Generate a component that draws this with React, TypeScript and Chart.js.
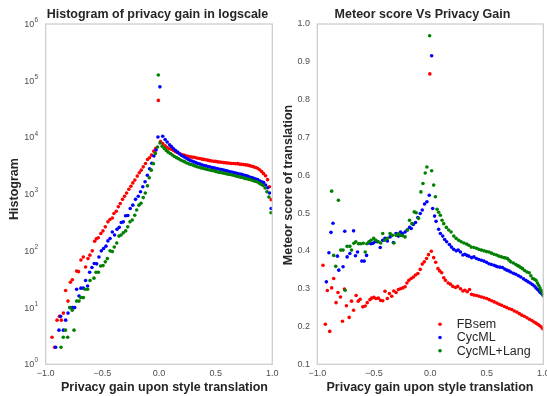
import React, { useEffect, useRef } from 'react';
import { Chart, registerables } from 'chart.js';

Chart.register(...registerables);

const FONT = '"Liberation Sans", Arial, Helvetica, sans-serif';
const TEXT_DARK = '#262626';
const TICK_COLOR = '#4d4d4d';
const FRAME_COLOR = '#cccccc';
const TICK_SIZE = 9;
const DOT_R = 1.8;

const seriesNames = ['FBsem', 'CycML', 'CycML+Lang'];
const seriesColors = ['#ff0000', '#0000ff', '#008000'];

const xTickValues = [-1.0, -0.5, 0.0, 0.5, 1.0];
const logTickPowers = [0, 1, 2, 3, 4, 5, 6];
const meteorTicks = [0.1, 0.2, 0.3, 0.4, 0.5, 0.6, 0.7, 0.8, 0.9, 1.0];

// ---------- Left: histogram (log scale) ----------
const histFBsemX = [-0.944,-0.921,-0.900,-0.879,-0.862,-0.844,-0.824,-0.803,-0.782,-0.765,
  -0.727,-0.710,-0.689,-0.668,-0.648,-0.627,-0.610,-0.589,-0.568,-0.553,
  -0.536,-0.513,-0.495,-0.474,-0.451,-0.433,-0.412,-0.398,-0.377,-0.359,
  -0.342,-0.322,-0.304,-0.286,-0.266,-0.248,-0.231,-0.213,-0.192,-0.174,
  -0.157,-0.139,-0.119,-0.101,-0.084,-0.066,-0.046,-0.028,-0.006,0.013,
  0.033,0.054,0.072,0.090,0.110,0.128,0.146,0.164,0.182,0.200,
  0.219,0.237,0.255,0.273,0.290,0.307,0.325,0.343,0.360,0.378,
  0.395,0.413,0.430,0.448,0.466,0.483,0.500,0.518,0.536,0.553,
  0.571,0.589,0.606,0.624,0.641,0.659,0.676,0.694,0.712,0.729,
  0.747,0.765,0.782,0.800,0.818,0.835,0.853,0.870,0.888,0.906,
  0.923,0.941,0.958,0.975,0.990];
const histFBsemY = [3,2,6,7,6,8,20,13,28,31,
  44,43,69,78,52,73,84,100,148,163,
  170,203,225,265,325,357,380,455,500,600,
  685,810,920,1050,1220,1380,1580,1770,2080,2390,
  2650,3030,3470,4080,4370,4880,5730,6430,45000,8500,
  7800,7100,6650,6300,6200,5900,5600,5400,5200,5000,
  4900,4750,4650,4550,4500,4460,4380,4300,4250,4150,
  4100,4050,3980,3900,3850,3810,3780,3700,3680,3650,
  3600,3560,3550,3500,3480,3470,3440,3450,3380,3350,
  3330,3280,3250,3180,3100,3030,2950,2850,2700,2500,
  2300,2100,1800,1350,800];

const histCycMLX = [-0.912,-0.883,-0.868,-0.844,-0.824,-0.803,-0.786,-0.765,-0.744,-0.727,
  -0.706,-0.689,-0.668,-0.648,-0.630,-0.612,-0.592,-0.571,-0.550,-0.530,
  -0.509,-0.489,-0.468,-0.451,-0.432,-0.412,-0.392,-0.371,-0.351,-0.333,
  -0.315,-0.295,-0.275,-0.254,-0.231,-0.207,-0.183,-0.163,-0.143,-0.123,
  -0.103,-0.083,-0.064,-0.045,-0.026,-0.009,0.008,0.033,0.054,0.072,
  0.093,0.110,0.128,0.146,0.164,0.182,0.200,0.219,0.237,0.255,
  0.273,0.290,0.307,0.325,0.343,0.360,0.378,0.395,0.413,0.430,
  0.448,0.466,0.483,0.500,0.518,0.536,0.553,0.571,0.589,0.606,
  0.624,0.641,0.659,0.676,0.694,0.712,0.729,0.747,0.765,0.782,
  0.800,0.818,0.835,0.853,0.870,0.888,0.906,0.923,0.941,0.958,
  0.975,0.990];
const histCycMLY = [2,4,7,4,6,8,10,10,10,21,
  16,22,22,30,24,42,51,60,59,78,
  100,110,121,150,165,215,190,240,260,316,
  325,415,420,560,640,810,920,1100,1350,1650,
  2150,2800,3500,4700,6000,10200,78000,10500,9200,8300,
  7400,6900,6300,5900,5500,5100,4800,4560,4350,4150,
  3950,3850,3700,3600,3480,3400,3300,3200,3150,3080,
  3030,2950,2900,2850,2800,2750,2720,2650,2600,2550,
  2480,2460,2400,2350,2300,2260,2230,2180,2130,2080,
  2000,1960,1900,1850,1800,1720,1650,1600,1450,1300,
  1050,560];

const histCycMLLangX = [-0.865,-0.845,-0.826,-0.806,-0.786,-0.766,-0.750,-0.727,-0.706,-0.690,
  -0.668,-0.653,-0.630,-0.609,-0.574,-0.556,-0.535,-0.515,-0.494,-0.474,
  -0.456,-0.432,-0.412,-0.395,-0.373,-0.353,-0.335,-0.315,-0.294,-0.276,
  -0.256,-0.236,-0.214,-0.197,-0.177,-0.159,-0.139,-0.121,-0.102,-0.086,
  -0.068,-0.050,-0.032,-0.013,-0.006,0.009,0.028,0.046,0.064,0.082,
  0.100,0.118,0.136,0.155,0.173,0.191,0.210,0.228,0.246,0.264,
  0.282,0.300,0.318,0.336,0.355,0.373,0.391,0.410,0.428,0.446,
  0.464,0.482,0.500,0.518,0.536,0.555,0.573,0.591,0.610,0.628,
  0.646,0.664,0.682,0.700,0.718,0.736,0.755,0.773,0.791,0.810,
  0.828,0.846,0.864,0.882,0.900,0.918,0.936,0.953,0.970,0.989];
const histCycMLLangY = [2,3,4,3,10,9,4,13,13,15,
  15,21,21,30,33,42,42,54,55,64,
  73,100,97,117,138,182,190,208,225,265,
  325,350,425,525,640,690,870,1050,1400,1950,
  2650,3450,5200,6800,126000,8000,7000,6400,5900,5500,
  5200,4900,4600,4400,4200,4000,3850,3700,3550,3420,
  3330,3250,3150,3050,2980,2900,2850,2780,2720,2660,
  2620,2580,2520,2460,2420,2380,2330,2290,2250,2220,
  2180,2130,2080,2040,2000,1960,1900,1870,1830,1790,
  1740,1690,1650,1580,1500,1420,1280,1100,890,470];

// ---------- Right: meteor score ----------
const meteorFBsemX = [-0.950,-0.929,-0.911,-0.890,-0.873,-0.855,-0.834,-0.817,-0.795,-0.777,
  -0.760,-0.742,-0.718,-0.697,-0.679,-0.656,-0.638,-0.621,-0.597,-0.576,
  -0.558,-0.534,-0.519,-0.499,-0.481,-0.460,-0.439,-0.421,-0.401,-0.380,
  -0.362,-0.341,-0.323,-0.303,-0.282,-0.264,-0.243,-0.223,-0.207,-0.190,
  -0.169,-0.149,-0.131,-0.110,-0.089,-0.071,-0.053,-0.033,-0.016,-0.004,
  0.009,0.030,0.048,0.068,0.083,0.101,0.119,0.134,0.158,0.178,
  0.199,0.223,0.243,0.267,0.288,0.306,0.327,0.347,0.365,0.386,
  0.410,0.432,0.454,0.476,0.499,0.521,0.543,0.565,0.588,0.610,
  0.632,0.655,0.677,0.699,0.721,0.743,0.766,0.788,0.810,0.832,
  0.855,0.877,0.899,0.918,0.935,0.950,0.964,0.980,0.995];
const meteorFBsemY = [0.362,0.206,0.295,0.187,0.302,0.327,0.263,0.290,0.278,0.214,
  0.299,0.255,0.224,0.267,0.243,0.282,0.267,0.272,0.252,0.254,
  0.263,0.271,0.275,0.277,0.274,0.275,0.269,0.268,0.293,0.274,
  0.287,0.280,0.294,0.290,0.298,0.300,0.302,0.305,0.315,0.322,
  0.327,0.331,0.336,0.340,0.351,0.365,0.371,0.380,0.390,0.868,
  0.399,0.382,0.370,0.353,0.347,0.342,0.329,0.322,0.315,0.312,
  0.306,0.303,0.306,0.300,0.294,0.296,0.292,0.298,0.285,0.283,
  0.282,0.280,0.278,0.276,0.274,0.271,0.268,0.265,0.262,0.259,
  0.256,0.253,0.250,0.247,0.245,0.241,0.238,0.234,0.230,0.227,
  0.223,0.219,0.216,0.212,0.209,0.206,0.203,0.199,0.194];

const meteorCycMLX = [-0.920,-0.897,-0.879,-0.861,-0.822,-0.810,-0.772,-0.757,-0.736,-0.712,
  -0.679,-0.662,-0.644,-0.606,-0.585,-0.564,-0.546,-0.525,-0.507,-0.490,
  -0.469,-0.443,-0.421,-0.401,-0.380,-0.356,-0.327,-0.303,-0.282,-0.264,
  -0.247,-0.223,-0.205,-0.184,-0.169,-0.151,-0.131,-0.110,-0.089,-0.071,
  -0.051,-0.030,-0.009,0.012,0.021,0.038,0.051,0.074,0.089,0.110,
  0.127,0.145,0.169,0.187,0.207,0.229,0.247,0.267,0.288,0.306,
  0.324,0.341,0.365,0.386,0.408,0.430,0.452,0.475,0.497,0.519,
  0.541,0.564,0.580,0.594,0.616,0.638,0.658,0.677,0.695,0.712,
  0.735,0.757,0.780,0.801,0.824,0.846,0.865,0.884,0.903,0.920,
  0.935,0.950,0.963,0.973,0.985,0.995];
const meteorCycMLY = [0.318,0.395,0.449,0.473,0.386,0.349,0.358,0.452,0.384,0.393,
  0.453,0.387,0.397,0.373,0.373,0.388,0.421,0.419,0.420,0.424,
  0.424,0.409,0.428,0.433,0.426,0.437,0.422,0.446,0.439,0.450,
  0.446,0.450,0.455,0.462,0.459,0.470,0.475,0.488,0.499,0.508,
  0.524,0.530,0.547,0.916,0.512,0.492,0.478,0.457,0.446,0.439,
  0.430,0.424,0.417,0.410,0.404,0.400,0.402,0.397,0.389,0.391,
  0.388,0.386,0.382,0.384,0.380,0.377,0.375,0.373,0.370,0.366,
  0.364,0.362,0.360,0.358,0.357,0.356,0.352,0.349,0.347,0.344,
  0.341,0.338,0.334,0.331,0.326,0.322,0.318,0.315,0.311,0.307,
  0.302,0.298,0.294,0.290,0.287,0.285];

const meteorCycMLLangX = [-0.873,-0.855,-0.837,-0.813,-0.792,-0.772,-0.754,-0.736,-0.712,-0.697,
  -0.676,-0.659,-0.635,-0.617,-0.594,-0.576,-0.562,-0.543,-0.525,-0.501,
  -0.481,-0.460,-0.439,-0.421,-0.401,-0.380,-0.356,-0.336,-0.321,-0.303,
  -0.284,-0.264,-0.243,-0.223,-0.202,-0.184,-0.163,-0.142,-0.125,-0.104,
  -0.083,-0.065,-0.045,-0.030,-0.006,0.012,0.030,0.045,0.060,0.074,
  0.089,0.104,0.119,0.142,0.163,0.184,0.208,0.229,0.252,0.273,
  0.297,0.321,0.341,0.362,0.386,0.408,0.430,0.452,0.475,0.497,
  0.519,0.541,0.564,0.586,0.608,0.630,0.653,0.668,0.683,0.698,
  0.712,0.735,0.757,0.772,0.786,0.800,0.816,0.835,0.855,0.875,
  0.890,0.906,0.920,0.935,0.948,0.959,0.970,0.980,0.990,1.000];
const meteorCycMLLangY = [0.558,0.388,0.359,0.534,0.402,0.402,0.296,0.412,0.412,0.402,
  0.420,0.424,0.419,0.419,0.420,0.397,0.419,0.424,0.428,0.433,
  0.428,0.424,0.421,0.446,0.428,0.433,0.446,0.441,0.421,0.441,
  0.445,0.441,0.440,0.437,0.455,0.481,0.472,0.503,0.501,0.486,
  0.556,0.578,0.606,0.622,0.969,0.612,0.574,0.543,0.510,0.502,
  0.494,0.481,0.472,0.462,0.455,0.450,0.439,0.433,0.428,0.424,
  0.421,0.418,0.415,0.410,0.409,0.407,0.404,0.402,0.400,0.398,
  0.397,0.394,0.391,0.389,0.386,0.384,0.382,0.381,0.380,0.375,
  0.371,0.368,0.364,0.361,0.359,0.356,0.353,0.348,0.344,0.342,
  0.334,0.327,0.325,0.322,0.315,0.309,0.302,0.296,0.289,0.281];

const histTitle = 'Histogram of privacy gain in logscale';
const meteorTitle = 'Meteor score Vs Privacy Gain';
const xAxisTitle = 'Privacy gain upon style translation';
const histYTitle = 'Histogram';
const meteorYTitle = 'Meteor score of translation';

function zip(xs: number[], ys: number[]) {
  const n = Math.min(xs.length, ys.length);
  const out: { x: number; y: number }[] = [];
  for (let i = 0; i < n; i++) out.push({ x: xs[i], y: ys[i] });
  return out;
}

function makeDatasets(pairs: [number[], number[]][]) {
  return pairs.map(([xs, ys], i) => ({
    label: seriesNames[i],
    data: zip(xs, ys),
    backgroundColor: seriesColors[i],
    borderColor: seriesColors[i],
    borderWidth: 0,
    pointRadius: DOT_R,
    pointHoverRadius: DOT_R,
    pointBorderWidth: 0,
    order: 3 - i,
  }));
}

type Decor = {
  offsetX: number;
  title: string; titleX: number;
  xTitleX: number;
  yTitle: string; yTitleX: number; yTitleY: number;
  logLabels?: boolean;
  legend?: { markerX: number; textX: number; rows: number[] };
};

function makeDecorPlugin(d: Decor) {
  return {
    id: 'decor',
    afterDatasetsDraw(chart: any) {
      const { ctx, chartArea } = chart;
      ctx.save();
      ctx.strokeStyle = FRAME_COLOR;
      ctx.lineWidth = 1.25;
      ctx.strokeRect(chartArea.left, chartArea.top, chartArea.right - chartArea.left, chartArea.bottom - chartArea.top);
      ctx.restore();
    },
    afterDraw(chart: any) {
      const ctx = chart.ctx as CanvasRenderingContext2D;
      const ox = d.offsetX;
      ctx.save();
      // log tick labels: 10 with raised exponent
      if (d.logLabels) {
        const ys = chart.scales.y;
        const right = chart.chartArea.left - 7.5;
        ctx.fillStyle = TICK_COLOR;
        ctx.textBaseline = 'middle';
        ctx.textAlign = 'right';
        logTickPowers.forEach((p) => {
          const py = ys.getPixelForValue(Math.pow(10, p));
          ctx.font = `6.5px ${FONT}`;
          const e = String(p);
          const ew = ctx.measureText(e).width;
          ctx.fillText(e, right, py - 3.6);
          ctx.font = `${TICK_SIZE}px ${FONT}`;
          ctx.fillText('10', right - ew - 0.3, py + 0.5);
        });
      }
      ctx.fillStyle = TEXT_DARK;
      ctx.font = `bold 12.5px ${FONT}`;
      ctx.textAlign = 'center';
      ctx.textBaseline = 'alphabetic';
      ctx.fillText(d.title, d.titleX - ox, 17.5);
      ctx.fillText(xAxisTitle, d.xTitleX - ox, 390.5);
      ctx.save();
      ctx.translate(d.yTitleX - ox, d.yTitleY);
      ctx.rotate(-Math.PI / 2);
      ctx.fillText(d.yTitle, 0, 0);
      ctx.restore();
      if (d.legend) {
        const lg = d.legend;
        ctx.font = `12.5px ${FONT}`;
        ctx.textAlign = 'left';
        ctx.textBaseline = 'middle';
        chart.data.datasets.forEach((ds: any, i: number) => {
          const y = lg.rows[i];
          ctx.fillStyle = ds.backgroundColor;
          ctx.beginPath();
          ctx.arc(lg.markerX - ox, y, DOT_R, 0, Math.PI * 2);
          ctx.fill();
          ctx.fillStyle = TEXT_DARK;
          ctx.fillText(ds.label, lg.textX - ox, y + 0.5);
        });
      }
      ctx.restore();
    },
  };
}

const fmtX = (v: any) => {
  const s = Number(v).toFixed(1);
  return s === '-0.0' ? '0.0' : s.replace('-', '\u2212');
};

function xScale() {
  return {
    type: 'linear',
    min: -1,
    max: 1,
    grid: { display: false, drawTicks: false },
    border: { display: false },
    afterBuildTicks: (s: any) => { s.ticks = xTickValues.map((v) => ({ value: v })); },
    afterFit: (s: any) => { s.height = 31.7; s.paddingLeft = 0; s.paddingRight = 0; },
    ticks: {
      color: TICK_COLOR,
      font: { family: FONT, size: TICK_SIZE },
      padding: 3.6,
      maxRotation: 0,
      autoSkip: false,
      callback: fmtX,
    },
  };
}

export default function App() {
  const leftRef = useRef<HTMLCanvasElement>(null);
  const rightRef = useRef<HTMLCanvasElement>(null);

  useEffect(() => {
    Chart.defaults.font.family = FONT;

    const left = new Chart(leftRef.current as HTMLCanvasElement, {
      type: 'scatter',
      data: {
        datasets: makeDatasets([
          [histFBsemX, histFBsemY],
          [histCycMLX, histCycMLY],
          [histCycMLLangX, histCycMLLangY],
        ]) as any,
      },
      options: {
        animation: false,
        responsive: false,
        maintainAspectRatio: false,
        events: [],
        layout: { padding: { left: 0, right: 300 - 272.3, top: 24, bottom: 0 } },
        plugins: { legend: { display: false }, tooltip: { enabled: false }, title: { display: false } },
        scales: {
          x: xScale() as any,
          y: {
            type: 'logarithmic',
            min: 1,
            max: 1e6,
            grid: { display: false, drawTicks: false },
            border: { display: false },
            afterBuildTicks: (s: any) => { s.ticks = logTickPowers.map((p) => ({ value: Math.pow(10, p) })); },
            afterFit: (s: any) => { s.width = 45.7; s.paddingTop = 0; s.paddingBottom = 0; },
            ticks: { display: false },
          } as any,
        },
      },
      plugins: [makeDecorPlugin({
        offsetX: 0,
        title: histTitle, titleX: 157.5,
        xTitleX: 164.5,
        yTitle: histYTitle, yTitleX: 18.3, yTitleY: 189,
        logLabels: true,
      })],
    });

    const right = new Chart(rightRef.current as HTMLCanvasElement, {
      type: 'scatter',
      data: {
        datasets: makeDatasets([
          [meteorFBsemX, meteorFBsemY],
          [meteorCycMLX, meteorCycMLY],
          [meteorCycMLLangX, meteorCycMLLangY],
        ]) as any,
      },
      options: {
        animation: false,
        responsive: false,
        maintainAspectRatio: false,
        events: [],
        layout: { padding: { left: 0, right: 297 - 293.3, top: 24, bottom: 0 } },
        plugins: { legend: { display: false }, tooltip: { enabled: false }, title: { display: false } },
        scales: {
          x: xScale() as any,
          y: {
            type: 'linear',
            min: 0.1,
            max: 1.0,
            grid: { display: false, drawTicks: false },
            border: { display: false },
            afterBuildTicks: (s: any) => { s.ticks = meteorTicks.map((v) => ({ value: v })); },
            afterFit: (s: any) => { s.width = 67.3; s.paddingTop = 0; s.paddingBottom = 0; },
            ticks: {
              color: TICK_COLOR,
              font: { family: FONT, size: TICK_SIZE },
              padding: 7.3,
              autoSkip: false,
              callback: (v: any) => Number(v).toFixed(1),
            },
          } as any,
        },
      },
      plugins: [makeDecorPlugin({
        offsetX: 250,
        title: meteorTitle, titleX: 422.5,
        xTitleX: 430,
        yTitle: meteorYTitle, yTitleX: 291.7, yTitleY: 185,
        legend: { markerX: 440, textX: 456.7, rows: [324.3, 337.5, 350.7] },
      })],
    });

    return () => {
      left.destroy();
      right.destroy();
    };
  }, []);

  return (
    <div style={{ position: 'absolute', left: 0, top: 0, width: 547, height: 396, background: '#ffffff', overflow: 'hidden' }}>
      <canvas ref={leftRef} width={300} height={396} style={{ position: 'absolute', left: 0, top: 0, display: 'block' }} />
      <canvas ref={rightRef} width={297} height={396} style={{ position: 'absolute', left: 250, top: 0, display: 'block' }} />
    </div>
  );
}
